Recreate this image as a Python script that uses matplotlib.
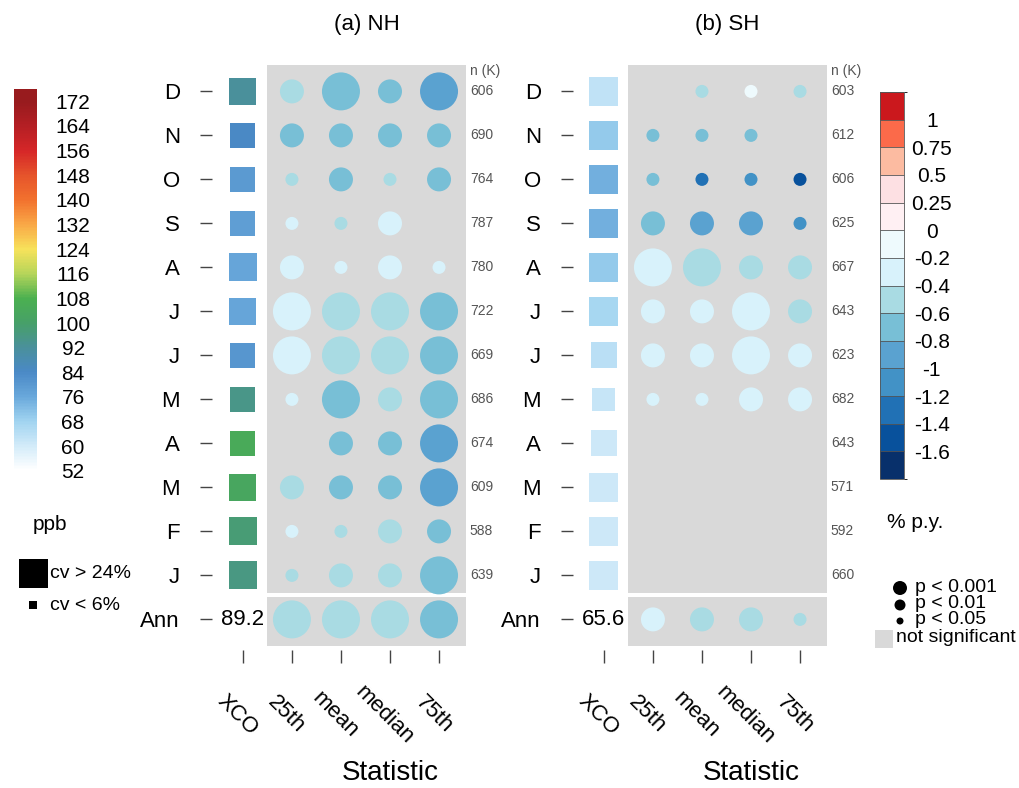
import numpy as np
import matplotlib
matplotlib.use("Agg")
import matplotlib.pyplot as plt
from matplotlib.colors import LinearSegmentedColormap, ListedColormap, BoundaryNorm, Normalize
from matplotlib.patches import Rectangle
from matplotlib.colorbar import ColorbarBase

plt.rcParams['font.family'] = ['Liberation Sans', 'DejaVu Sans']

months = ["D", "N", "O", "S", "A", "J", "J", "M", "A", "M", "F", "J"]
stats = ["25th", "mean", "median", "75th"]
xlabels = ["XCO"] + stats

# NH
nh_xco = [92, 84, 80, 79, 77, 77, 81, 95, 105, 103, 98, 96]
nh_cv = [22.3, 20.6, 20.6, 20.6, 23.1, 22.3, 20.6, 20.6, 20.6, 22.3, 23.1, 23.1]
nh_annual = 89.2
nh_n = [606, 690, 764, 787, 780, 722, 669, 686, 674, 609, 588, 639]
na = np.nan
nh_trend = [
    [-0.52, -0.71, -0.68, -0.92],
    [-0.69, -0.72, -0.70, -0.66],
    [-0.45, -0.74, -0.48, -0.67],
    [-0.28, -0.43, -0.31, na],
    [-0.33, -0.27, -0.35, -0.24],
    [-0.36, -0.51, -0.55, -0.73],
    [-0.38, -0.54, -0.52, -0.76],
    [-0.25, -0.77, -0.49, -0.71],
    [na, -0.72, -0.69, -0.94],
    [-0.47, -0.66, -0.70, -0.97],
    [-0.30, -0.44, -0.46, -0.68],
    [-0.42, -0.51, -0.53, -0.74],
    [-0.48, -0.52, -0.50, -0.69],
]
# 3: p<0.001, 2: p<0.01, 1: p<0.05, 0: not significant
nh_sig = [
    [2, 3, 2, 3],
    [2, 2, 2, 2],
    [1, 2, 1, 2],
    [1, 1, 2, 0],
    [2, 1, 2, 1],
    [3, 3, 3, 3],
    [3, 3, 3, 3],
    [1, 3, 2, 3],
    [0, 2, 2, 3],
    [2, 2, 2, 3],
    [1, 1, 2, 2],
    [1, 2, 2, 3],
    [3, 3, 3, 3],
]

# SH
sh_xco = [63, 70, 75, 75, 70, 67, 64, 62, 61, 61, 61, 61]
sh_cv = [25.0, 24.8, 25.3, 24.6, 24.9, 24.5, 21.4, 18.9, 21.4, 24.7, 24.9, 25.1]
sh_annual = 65.6
sh_n = [603, 612, 606, 625, 667, 643, 623, 682, 643, 571, 592, 660]
sh_trend = [
    [na, -0.46, -0.12, -0.48],
    [-0.71, -0.68, -0.73, na],
    [-0.66, -1.32, -1.08, -1.53],
    [-0.72, -0.91, -0.88, -1.12],
    [-0.31, -0.47, -0.52, -0.45],
    [-0.28, -0.33, -0.36, -0.51],
    [-0.29, -0.32, -0.37, -0.34],
    [-0.26, -0.30, -0.33, -0.27],
    [na, na, na, na],
    [na, na, na, na],
    [na, na, na, na],
    [na, na, na, na],
    [-0.33, -0.49, -0.47, -0.44],
]
sh_sig = [
    [0, 1, 1, 1],
    [1, 1, 1, 0],
    [1, 1, 1, 1],
    [2, 2, 2, 1],
    [3, 3, 2, 2],
    [2, 2, 3, 2],
    [2, 2, 3, 2],
    [1, 1, 2, 2],
    [0, 0, 0, 0],
    [0, 0, 0, 0],
    [0, 0, 0, 0],
    [0, 0, 0, 0],
    [2, 2, 2, 1],
]

# colour scales
xco_ticks = list(range(52, 173, 8))
xco_anchor_cols = ["#ffffff", "#d2ebf9", "#a0d3f0", "#69a8db", "#4a89c6", "#4a909b",
                   "#47a068", "#4bb050", "#b6d55a", "#f7e25b", "#f9a847", "#f2722e",
                   "#e6542b", "#d62728", "#b51f24", "#981b1e"]
xco_lo, xco_hi = 50, 176
xco_stops = [(0.0, xco_anchor_cols[0])]
xco_stops += [((v - xco_lo) / (xco_hi - xco_lo), c) for v, c in zip(xco_ticks, xco_anchor_cols)]
xco_stops += [(1.0, xco_anchor_cols[-1])]
xco_cmap = LinearSegmentedColormap.from_list("xco", xco_stops)
xco_norm = Normalize(xco_lo, xco_hi)

trend_bounds = [-1.8, -1.6, -1.4, -1.2, -1.0, -0.8, -0.6, -0.4, -0.2, 0, 0.25, 0.5, 0.75, 1.0, 1.25]
trend_labels = ["-1.6", "-1.4", "-1.2", "-1", "-0.8", "-0.6", "-0.4", "-0.2", "0", "0.25", "0.5", "0.75", "1"]
trend_cols = ["#08306b", "#08519c", "#2171b5", "#4292c6", "#5aa2d0", "#78bfd6", "#a9dbe3",
              "#d8f2fb", "#eefafd", "#fff0f3", "#fde0e3", "#fcbba1", "#fb6a4a", "#cb181d"]
trend_cmap = ListedColormap(trend_cols)
trend_norm = BoundaryNorm(trend_bounds, len(trend_cols))

PX = 72 / 100  # points per pixel
circle_px = {1: 13, 2: 24, 3: 38}
GRAY = "#d9d9d9"


def square_px(cv):
    return 8 + (np.clip(cv, 6, 24) - 6) * 21 / 18


fig = plt.figure(figsize=(10.19, 7.88), dpi=100)
W, H = 1019, 788


def draw_panel(left_px, xco, cv, annual, n, trend, sig, title):
    ax = fig.add_axes([left_px / W, 1 - 650 / H, 254 / W, 585 / H])
    ax.set_xlim(-0.63, 4.55)
    ax.set_ylim(-0.6 + 585 / 44, -0.6)
    for s in ax.spines.values():
        s.set_visible(False)

    ax.add_patch(Rectangle((0.5, -0.6), 4.04, 12.0, color=GRAY, lw=0, zorder=0))
    ax.add_patch(Rectangle((0.5, 11.5), 4.04, 1.11, color=GRAY, lw=0, zorder=0))

    rows = np.arange(len(months))
    sizes = (square_px(np.array(cv)) * PX) ** 2
    ax.scatter(np.zeros(len(rows)), rows, c=xco, cmap=xco_cmap, norm=xco_norm,
               marker="s", s=sizes, edgecolors="none", zorder=2)
    ax.text(0, 12, f"{annual:.1f}", ha="center", va="center", fontsize=16)

    tr = np.array(trend, dtype=float)
    sg = np.array(sig)
    yy, xx = np.nonzero((sg > 0) & ~np.isnan(tr))
    ax.scatter(xx + 1, yy, c=tr[yy, xx], cmap=trend_cmap, norm=trend_norm,
               s=[(circle_px[k] * PX) ** 2 for k in sg[yy, xx]], edgecolors="none", zorder=2)

    for i, v in enumerate(n):
        ax.text(4.63, i, str(v), ha="left", va="center", fontsize=10, color="#555555")
    ax.text(4.63, -0.46, "n (K)", ha="left", va="center", fontsize=10, color="#555555")

    ax.set_yticks(range(13))
    ax.set_yticklabels(months + ["Ann"], fontsize=16)
    ax.set_xticks(range(5))
    ax.set_xticklabels([])
    ax.tick_params(axis="y", length=9, width=1, color="#444444", pad=14)
    ax.tick_params(axis="x", length=9, width=1, color="#444444")
    for j, lab in enumerate(xlabels):
        ax.text(j - 0.11, -0.111, lab, rotation=-45, ha="center", va="center",
                fontsize=16, transform=ax.get_xaxis_transform())
    ax.text(3.0, -0.21, "Statistic", ha="center", va="center", fontsize=20,
            transform=ax.get_xaxis_transform())
    ax.text(2.52, 1.07, title, ha="center", va="center", fontsize=16,
            transform=ax.get_xaxis_transform())
    return ax


draw_panel(212, nh_xco, nh_cv, nh_annual, nh_n, nh_trend, nh_sig, "(a) NH")
draw_panel(573, sh_xco, sh_cv, sh_annual, sh_n, sh_trend, sh_sig, "(b) SH")

# XCO colour bar
cax1 = fig.add_axes([14 / W, 1 - 477 / H, 23 / W, 388 / H])
cb1 = ColorbarBase(cax1, cmap=xco_cmap, norm=xco_norm, ticks=xco_ticks)
cb1.outline.set_visible(False)
cax1.tick_params(length=0, labelsize=15, pad=26)
for t in cax1.get_yticklabels():
    t.set_ha("center")

# trend colour bar
cax2 = fig.add_axes([880 / W, 1 - 479 / H, 24 / W, 387 / H])
cb2 = ColorbarBase(cax2, cmap=trend_cmap, norm=trend_norm, boundaries=trend_bounds,
                   ticks=trend_bounds[1:-1], spacing="uniform", drawedges=True)
cb2.set_ticklabels(trend_labels)
cb2.outline.set_edgecolor("#555555")
cb2.outline.set_linewidth(0.6)
cb2.dividers.set_color("#555555")
cb2.dividers.set_linewidth(0.6)
cax2.tick_params(length=0, labelsize=15, pad=20)
for t in cax2.get_yticklabels():
    t.set_ha("center")

# legends (pixel overlay)
ov = fig.add_axes([0, 0, 1, 1])
ov.set_xlim(0, W)
ov.set_ylim(H, 0)
ov.axis("off")

ov.text(33, 525, "ppb", fontsize=15, va="center")
for cv_val, label, ty in [(24, "cv > 24%", 573), (6, "cv < 6%", 605)]:
    side = square_px(cv_val)
    cx = 33.5
    ov.add_patch(Rectangle((cx - side / 2, ty - side / 2), side, side, color="black", lw=0))
    ov.text(50, ty, label, fontsize=14, va="center")

ov.text(887, 523, "% p.y.", fontsize=15, va="center")
for d, label, ty in [(14, "p < 0.001", 588), (11, "p < 0.01", 605), (7, "p < 0.05", 621)]:
    ov.scatter([900], [ty], s=(d * PX) ** 2, color="black", edgecolors="none")
    ov.text(915, ty - 1, label, fontsize=14, va="center")
ov.add_patch(Rectangle((875, 630), 18, 18, color=GRAY, lw=0))
ov.text(896, 638, "not significant", fontsize=14, va="center")

fig.savefig("out.png", dpi=100)
